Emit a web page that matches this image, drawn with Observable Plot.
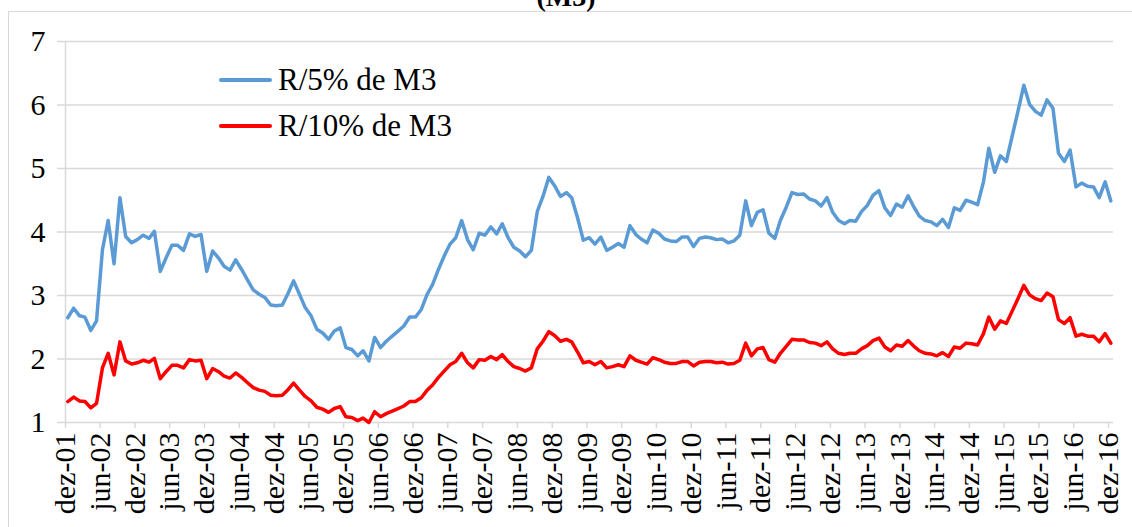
<!DOCTYPE html>
<html>
<head>
<meta charset="utf-8">
<script src="https://cdn.jsdelivr.net/npm/d3@7"></script>
<script src="https://cdn.jsdelivr.net/npm/@observablehq/plot@0.6"></script>
<style>
  body { margin: 0; background: #fff; }
  #wrap { position: relative; width: 1132px; height: 527px; overflow: hidden; background: #fff; font-family: "Liberation Serif", serif; }
  #frame { position: absolute; left: 8px; top: 11px; width: 1300px; height: 700px; border: 1px solid #d9d9d9; }
  #title { position: absolute; left: 0; width: 1132px; text-align: center; top: -17px; font-size: 28px; line-height: 28px; font-weight: bold; color: #000; }
  #chart { position: absolute; left: 0; top: 0; }
  .leg { position: absolute; left: 219px; height: 30px; display: flex; align-items: center; font-size: 31px; color: #000; white-space: nowrap; }
  .sw { width: 53px; height: 4px; border-radius: 2px; margin-right: 6px; }
</style>
</head>
<body>
<div id="wrap">
  <div id="frame"></div>
  <div id="title">(M3)</div>
  <div id="chart"></div>
  <div id="legend"></div>
</div>
<script>
// Series names
const seriesNames = ["R/5% de M3", "R/10% de M3"];
const seriesColors = ["#5b9bd5", "#ff0000"];

// Monthly values, dez-01 .. dez-16 (181 months)
const r5 = [
  2.65, 2.80, 2.68, 2.66, 2.45, 2.60, 3.72, 4.18, 3.50, 4.54, 3.93, 3.83,
  3.88, 3.95, 3.90, 4.01, 3.38, 3.59, 3.79, 3.79, 3.71, 3.97, 3.93, 3.96,
  3.38, 3.70, 3.59, 3.46, 3.40, 3.56, 3.41, 3.25, 3.09, 3.02, 2.97, 2.85,
  2.84, 2.85, 3.04, 3.23, 3.02, 2.81, 2.68, 2.47, 2.41, 2.31, 2.44, 2.49,
  2.18, 2.15, 2.05, 2.13, 1.97, 2.34, 2.18, 2.28, 2.36, 2.44, 2.52, 2.66,
  2.66, 2.78, 3.02, 3.17, 3.41, 3.62, 3.81, 3.91, 4.18, 3.88, 3.72, 3.98,
  3.95, 4.08, 3.97, 4.13, 3.91, 3.76, 3.70, 3.61, 3.71, 4.32, 4.56, 4.86,
  4.73, 4.56, 4.62, 4.54, 4.22, 3.87, 3.91, 3.81, 3.92, 3.71, 3.76, 3.82,
  3.76, 4.10, 3.96, 3.89, 3.83, 4.03, 3.98, 3.89, 3.86, 3.85, 3.92, 3.92,
  3.77, 3.90, 3.92, 3.91, 3.88, 3.89, 3.83, 3.86, 3.95, 4.49, 4.10, 4.31,
  4.35, 3.98, 3.90, 4.18, 4.39, 4.62, 4.59, 4.60, 4.52, 4.49, 4.41, 4.54,
  4.31, 4.18, 4.13, 4.18, 4.17, 4.32, 4.42, 4.58, 4.65, 4.38, 4.26, 4.44,
  4.39, 4.57, 4.39, 4.25, 4.18, 4.16, 4.10, 4.20, 4.07, 4.38, 4.34, 4.50,
  4.47, 4.43, 4.79, 5.32, 4.94, 5.20, 5.11, 5.50, 5.90, 6.31, 6.01, 5.90,
  5.84, 6.08, 5.95, 5.24, 5.11, 5.29, 4.71, 4.77, 4.72, 4.71, 4.54, 4.79,
  4.49
];
const r10 = [
  1.33, 1.40, 1.34, 1.33, 1.23, 1.30, 1.86, 2.09, 1.75, 2.27, 1.97, 1.92,
  1.94, 1.98, 1.95, 2.01, 1.69, 1.80, 1.90, 1.90, 1.86, 1.99, 1.97, 1.98,
  1.69, 1.85, 1.80, 1.73, 1.70, 1.78, 1.71, 1.63, 1.55, 1.51, 1.49, 1.43,
  1.42, 1.43, 1.52, 1.62, 1.51, 1.41, 1.34, 1.24, 1.21, 1.16, 1.22, 1.25,
  1.09, 1.08, 1.03, 1.07, 1.00, 1.17, 1.09, 1.14, 1.18, 1.22, 1.26, 1.33,
  1.33, 1.39, 1.51, 1.59, 1.71, 1.81, 1.91, 1.96, 2.09, 1.94, 1.86, 1.99,
  1.98, 2.04, 1.99, 2.07, 1.96, 1.88, 1.85, 1.81, 1.86, 2.16, 2.28, 2.43,
  2.37, 2.28, 2.31, 2.27, 2.11, 1.94, 1.96, 1.91, 1.96, 1.86, 1.88, 1.91,
  1.88, 2.05, 1.98, 1.95, 1.92, 2.02, 1.99, 1.95, 1.93, 1.93, 1.96, 1.96,
  1.89, 1.95, 1.96, 1.96, 1.94, 1.95, 1.92, 1.93, 1.98, 2.25, 2.05, 2.16,
  2.18, 1.99, 1.95, 2.09, 2.20, 2.31, 2.30, 2.30, 2.26, 2.25, 2.21, 2.27,
  2.16, 2.09, 2.07, 2.09, 2.09, 2.16, 2.21, 2.29, 2.33, 2.19, 2.13, 2.22,
  2.20, 2.29, 2.20, 2.13, 2.09, 2.08, 2.05, 2.10, 2.04, 2.19, 2.17, 2.25,
  2.24, 2.22, 2.40, 2.66, 2.47, 2.60, 2.56, 2.75, 2.95, 3.16, 3.01, 2.95,
  2.92, 3.04, 2.98, 2.62, 2.56, 2.65, 2.36, 2.39, 2.36, 2.36, 2.27, 2.40,
  2.25
];

// Axis tick labels (every 6 months)
const xTickLabels = [
  "dez-01","jun-02","dez-02","jun-03","dez-03","jun-04","dez-04","jun-05",
  "dez-05","jun-06","dez-06","jun-07","dez-07","jun-08","dez-08","jun-09",
  "dez-09","jun-10","dez-10","jun-11","dez-11","jun-12","dez-12","jun-13",
  "dez-13","jun-14","dez-14","jun-15","dez-15","jun-16","dez-16"
];
const yTicks = [1, 2, 3, 4, 5, 6, 7];

// Build table
const monthDate = (i, day) => new Date(Date.UTC(2001, 11 + i, day));
const data = [];
r5.forEach((v, i) => data.push({date: monthDate(i, 13), value: v, series: seriesNames[0]}));
r10.forEach((v, i) => data.push({date: monthDate(i, 13), value: v, series: seriesNames[1]}));
const xTicks = xTickLabels.map((_, k) => monthDate(6 * k, 1));
const labelOf = new Map(xTicks.map((d, k) => [+d, xTickLabels[k]]));

const grid = "#d9d9d9";
const chart = Plot.plot({
  width: 1132,
  height: 527,
  marginLeft: 65,
  marginRight: 19,
  marginTop: 41,
  marginBottom: 105,
  style: {fontFamily: "'Liberation Serif', serif", fontSize: "30px", background: "transparent", color: "#000"},
  x: {type: "utc", domain: [monthDate(0, 1), monthDate(180, 27)]},
  y: {domain: [1, 7]},
  color: {domain: seriesNames, range: seriesColors},
  marks: [
    Plot.ruleY(yTicks, {stroke: grid, strokeWidth: 1.5}),
    Plot.ruleX([monthDate(0, 1)], {stroke: grid, strokeWidth: 1.5}),
    Plot.axisY({ticks: yTicks, tickFormat: d => String(d), tickSize: 8, tickPadding: 12, stroke: grid, strokeWidth: 1.5, fill: "#000", label: null}),
    Plot.axisX({ticks: xTicks, tickFormat: d => labelOf.get(+d), tickRotate: -90, tickSize: 6, tickPadding: 4, stroke: grid, strokeWidth: 1.5, fill: "#000", label: null}),
    Plot.line(data, {x: "date", y: "value", z: "series", stroke: "series", strokeWidth: 3.5, strokeLinejoin: "round", strokeLinecap: "round"})
  ]
});
document.getElementById("chart").appendChild(chart);

// Legend
const legend = document.getElementById("legend");
const legTops = [65, 111];
seriesNames.forEach((name, k) => {
  const row = document.createElement("div");
  row.className = "leg";
  row.style.top = legTops[k] + "px";
  const sw = document.createElement("div");
  sw.className = "sw";
  sw.style.background = seriesColors[k];
  const t = document.createElement("span");
  t.textContent = name;
  row.appendChild(sw);
  row.appendChild(t);
  legend.appendChild(row);
});
</script>
</body>
</html>
